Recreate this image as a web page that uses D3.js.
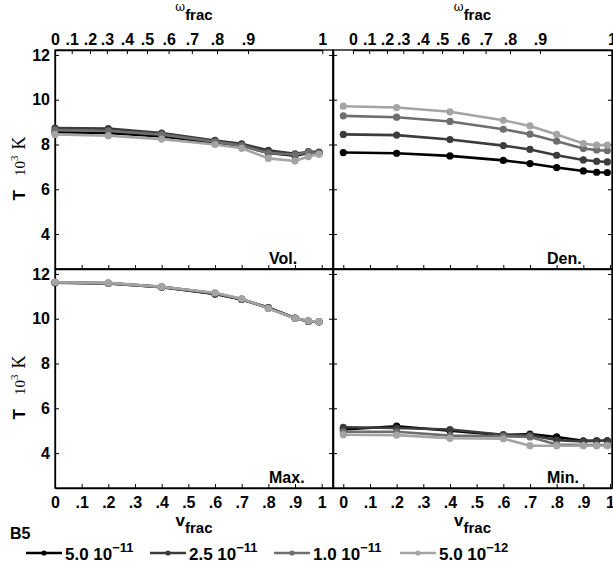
<!DOCTYPE html>
<html>
<head>
<meta charset="utf-8">
<script src="https://cdn.jsdelivr.net/npm/d3@7"></script>
<style>
  body { margin: 0; background: #fff; }
  svg { display: block; }
  text { font-family: "Liberation Sans", Arial, sans-serif; font-weight: bold; fill: #000; }
</style>
</head>
<body>
<script>
// ---- data ----
const vFrac = [0, 0.2, 0.4, 0.6, 0.7, 0.8, 0.9, 0.95, 0.99];

const seriesMantissa = ["5.0", "2.5", "1.0", "5.0"];
const seriesExponent = ["\u221211", "\u221211", "\u221211", "\u221212"];
const seriesColors = ["#000000", "#3c3c3c", "#6e6e6e", "#a4a4a4"];

// Volume-averaged temperature (10^3 K), one row per series
const volT = [
  [8.55, 8.52, 8.36, 8.08, 7.95, 7.62, 7.50, 7.62, 7.62],
  [8.73, 8.71, 8.51, 8.18, 8.03, 7.74, 7.58, 7.68, 7.66],
  [8.64, 8.60, 8.44, 8.12, 7.95, 7.62, 7.54, 7.66, 7.60],
  [8.45, 8.39, 8.24, 8.00, 7.83, 7.38, 7.26, 7.46, 7.56]
];
// Density-weighted temperature
const denT = [
  [7.64, 7.61, 7.49, 7.29, 7.15, 6.97, 6.82, 6.76, 6.75],
  [8.45, 8.42, 8.22, 7.95, 7.78, 7.52, 7.31, 7.25, 7.22],
  [9.28, 9.22, 9.03, 8.68, 8.46, 8.15, 7.82, 7.75, 7.72],
  [9.71, 9.65, 9.46, 9.08, 8.83, 8.45, 8.04, 7.97, 7.97]
];
// Maximum temperature
const maxT = [
  [11.61, 11.58, 11.41, 11.10, 10.86, 10.50, 10.03, 9.88, 9.86],
  [11.62, 11.59, 11.42, 11.12, 10.87, 10.48, 10.02, 9.89, 9.87],
  [11.62, 11.58, 11.42, 11.14, 10.88, 10.47, 10.02, 9.90, 9.87],
  [11.63, 11.60, 11.43, 11.16, 10.89, 10.46, 10.02, 9.90, 9.87]
];
// Minimum temperature
const minT = [
  [5.05, 5.20, 5.00, 4.80, 4.85, 4.72, 4.55, 4.55, 4.55],
  [5.15, 5.12, 5.05, 4.82, 4.80, 4.58, 4.52, 4.55, 4.55],
  [4.95, 4.95, 4.78, 4.75, 4.72, 4.38, 4.36, 4.36, 4.36],
  [4.82, 4.80, 4.66, 4.64, 4.33, 4.33, 4.33, 4.33, 4.33]
];

const panelNames = ["Vol.", "Den.", "Max.", "Min."];

const vTicks = [0, 0.1, 0.2, 0.3, 0.4, 0.5, 0.6, 0.7, 0.8, 0.9, 1];
const vTickLabels = ["0", ".1", ".2", ".3", ".4", ".5", ".6", ".7", ".8", ".9", "1"];
const omegaTicks = [0, 0.1, 0.2, 0.3, 0.4, 0.5, 0.6, 0.7, 0.8, 0.9, 1];
// fraction of the axis span at which each omega_frac value falls
const omegaAxisFrac = [0, 0.0625, 0.131, 0.194, 0.269, 0.344, 0.425, 0.512, 0.606, 0.722, 1];
const yTicks = [4, 6, 8, 10, 12];

// ---- layout ----
const W = 613, H = 565;
const colX = [[55, 333], [333, 612]];
const rowY = [[50, 269], [269, 488]];
const xDomains = [[0, 1.0424], [-0.0386, 1.0075]];
const omegaRanges = [[55, 322.3], [353, 612]];
const yDomain = [2.44, 12.22];

const serif = "Liberation Serif, Times New Roman, serif";

const svg = d3.select("body").append("svg").attr("width", W).attr("height", H);

const panels = [
  { name: panelNames[0], data: volT, col: 0, row: 0 },
  { name: panelNames[1], data: denT, col: 1, row: 0 },
  { name: panelNames[2], data: maxT, col: 0, row: 1 },
  { name: panelNames[3], data: minT, col: 1, row: 1 }
];

function styleAxis(g) {
  g.selectAll("path.domain").attr("stroke", "#000").attr("stroke-width", 1.3);
  g.selectAll(".tick line").attr("stroke", "#000").attr("stroke-width", 1);
  g.selectAll("text").attr("font-size", 16).attr("font-family", "Liberation Sans, Arial, sans-serif").attr("font-weight", "bold");
}

panels.forEach(p => {
  const [x0, x1] = colX[p.col];
  const [y0, y1] = rowY[p.row];
  const x = d3.scaleLinear().domain(xDomains[p.col]).range([x0, x1]);
  const y = d3.scaleLinear().domain(yDomain).range([y1, y0]);
  const g = svg.append("g");

  // frame
  g.append("rect").attr("x", x0).attr("y", y0).attr("width", x1 - x0).attr("height", y1 - y0)
    .attr("fill", "none").attr("stroke", "#000").attr("stroke-width", 1.3);

  // bottom axis (v_frac)
  const bottom = d3.axisBottom(x).tickValues(vTicks).tickSizeInner(-4).tickSizeOuter(0).tickPadding(9)
    .tickFormat((d, i) => p.row === 1 ? vTickLabels[i] : "");
  g.append("g").attr("transform", `translate(0,${y1})`).call(bottom).call(styleAxis);

  // top axis (omega_frac) on upper panels
  if (p.row === 0) {
    const w = d3.scaleLinear().domain(omegaTicks)
      .range(omegaAxisFrac.map(f => omegaRanges[p.col][0] + f * (omegaRanges[p.col][1] - omegaRanges[p.col][0])));
    const top = d3.axisTop(w).tickValues(omegaTicks).tickSizeInner(-4).tickSizeOuter(0).tickPadding(5)
      .tickFormat((d, i) => vTickLabels[i]);
    g.append("g").attr("transform", `translate(0,${y0})`).call(top).call(styleAxis);
  }

  // left and right y axes
  const left = d3.axisLeft(y).tickValues(yTicks).tickSizeInner(-4).tickSizeOuter(0).tickPadding(5)
    .tickFormat(d => p.col === 0 ? d : "");
  g.append("g").attr("transform", `translate(${x0},0)`).call(left).call(styleAxis);
  const right = d3.axisRight(y).tickValues(yTicks).tickSizeInner(-4).tickSizeOuter(0).tickFormat("");
  g.append("g").attr("transform", `translate(${x1},0)`).call(right).call(styleAxis);

  // series
  const line = d3.line().x((d, i) => x(vFrac[i])).y(d => y(d));
  p.data.forEach((vals, s) => {
    g.append("path").datum(vals).attr("d", line).attr("fill", "none")
      .attr("stroke", seriesColors[s]).attr("stroke-width", 2.6).attr("stroke-linejoin", "round");
    g.selectAll(null).data(vals).enter().append("circle")
      .attr("cx", (d, i) => x(vFrac[i])).attr("cy", d => y(d)).attr("r", 3.6)
      .attr("fill", seriesColors[s]);
  });

  // panel name
  g.append("text").attr("x", x0 + 214).attr("y", y1 - 5).attr("font-size", 16).text(p.name);

  // y axis title: T 10^3 K
  if (p.col === 0) {
    const cy = (y0 + y1) / 2 + 9;
    const t = g.append("text").attr("transform", `translate(25,${cy}) rotate(-90)`).attr("text-anchor", "middle");
    t.append("tspan").attr("font-size", 17).text("T");
    t.append("tspan").attr("font-family", serif).attr("font-weight", "normal").attr("font-size", 15).attr("dx", 14).text("10");
    t.append("tspan").attr("font-family", serif).attr("font-weight", "normal").attr("font-size", 11).attr("dy", -7).text("3");
    t.append("tspan").attr("font-family", serif).attr("font-weight", "normal").attr("font-size", 18).attr("dy", 7).attr("dx", 6).text("K");
  }

  // x axis titles
  const cx = (x0 + x1) / 2;
  if (p.row === 1) {
    const t = g.append("text").attr("x", cx).attr("y", 526).attr("text-anchor", "middle");
    t.append("tspan").attr("font-size", 17).text("v");
    t.append("tspan").attr("font-size", 15).attr("dy", 7).text("frac");
  } else {
    const t = g.append("text").attr("x", cx).attr("y", 11).attr("text-anchor", "middle");
    t.append("tspan").attr("font-family", "DejaVu Serif, serif").attr("font-weight", "normal").attr("font-size", 12).text("\u03c9");
    t.append("tspan").attr("font-size", 15).attr("dy", 9).text("frac");
  }
});

// figure tag
svg.append("text").attr("x", 10).attr("y", 539).attr("font-size", 16).text("B5");

// legend
const legendX = [26, 150, 274, 400];
const legY = 553;
seriesColors.forEach((c, s) => {
  const lx = legendX[s];
  svg.append("line").attr("x1", lx).attr("x2", lx + 36).attr("y1", legY).attr("y2", legY)
    .attr("stroke", c).attr("stroke-width", 2.6);
  svg.append("circle").attr("cx", lx + 18).attr("cy", legY).attr("r", 2.6).attr("fill", c);
  const t = svg.append("text").attr("x", lx + 39).attr("y", legY + 7).attr("font-size", 17);
  t.append("tspan").text(seriesMantissa[s] + " 10");
  t.append("tspan").attr("font-size", 13).attr("dy", -8).text(seriesExponent[s]);
});
</script>
</body>
</html>
